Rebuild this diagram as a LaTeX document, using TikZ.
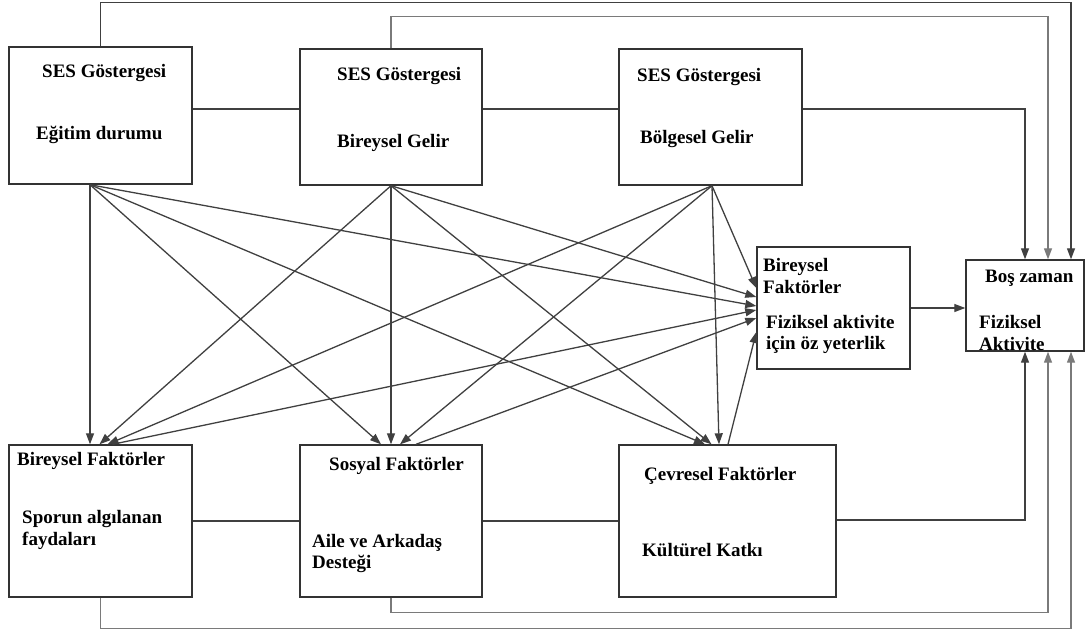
\documentclass[tikz,border=0pt]{standalone}
\usepackage{fontspec}
\setmainfont{Liberation Serif}
\usetikzlibrary{arrows.meta}
\begin{document}
\begin{tikzpicture}[x=1pt,y=-1pt,
  box/.style={draw=black!80, line width=1.4pt, rectangle, inner sep=0pt, fill=white},
  lbl/.style={font=\bfseries\fontsize{19}{22}\selectfont, anchor=base west, inner sep=0pt, text=black},
  con/.style={draw=black!75, line width=1.3pt},
  lcon/.style={draw=black!52, line width=1.3pt},
  tip/.style={-{Triangle[length=11pt,width=8pt]}},
  arr/.style={con, tip},
  larr/.style={lcon, tip}]
\useasboundingbox (0,0) rectangle (1086,635);
% boxes
\node[box, minimum width=183pt, minimum height=137pt] (A) at (100.5,115.5) {};
\node[box, minimum width=182pt, minimum height=136pt] (B) at (391,117) {};
\node[box, minimum width=183pt, minimum height=136pt] (C) at (710.5,117) {};
\node[box, minimum width=153pt, minimum height=122pt] (D) at (833.5,308) {};
\node[box, minimum width=118pt, minimum height=91pt] (E) at (1025,305.5) {};
\node[box, minimum width=183pt, minimum height=152pt] (F) at (100.5,521) {};
\node[box, minimum width=182pt, minimum height=152pt] (G) at (391,521) {};
\node[box, minimum width=217pt, minimum height=152pt] (H) at (727.5,521) {};
% horizontal links
\draw[con] ([yshift=6.5pt]A.east) -- ([yshift=8pt]B.west);
\draw[con] ([yshift=8pt]B.east) -- ([yshift=8pt]C.west);
\draw[con] (F.east) -- (G.west);
\draw[con] (G.east) -- (H.west);
% routes to E
\draw[arr] (A.north) -- ++(0,-44) -| ([xshift=46pt]E.north);
\draw[larr] (B.north) -- ++(0,-32) -| ([xshift=23pt]E.north);
\draw[arr] ([yshift=8pt]C.east) -| (E.north);
\draw[arr] ([yshift=1pt]H.east) -| (E.south);
\draw[larr] (G.south) -- ++(0,15) -| ([xshift=23pt]E.south);
\draw[larr] (F.south) -- ++(0,31) -| ([xshift=46pt]E.south);
\draw[arr] (D.east) -- (D.east -| E.west);
% SES -> factors
\draw[arr] ([xshift=-10.5pt]A.south) -- ([xshift=-10.5pt]F.north);
\draw[arr] ([xshift=-10.5pt]A.south) -- ([xshift=-10pt]G.north);
\draw[arr] ([xshift=-10.5pt]A.south) -- ([xshift=-22.5pt]H.north);
\draw[arr] ([xshift=-10.5pt]A.south) -- ([yshift=2pt]D.west);
\draw[arr] (B.south) -- ([xshift=-1pt]F.north);
\draw[arr] (B.south) -- (G.north);
\draw[arr] (B.south) -- ([xshift=-16pt]H.north);
\draw[arr] (B.south) -- ([yshift=11pt]D.west);
\draw[arr] ([xshift=1.5pt]C.south) -- ([xshift=7pt]F.north);
\draw[arr] ([xshift=1.5pt]C.south) -- ([xshift=9pt]G.north);
\draw[arr] ([xshift=1.5pt]C.south) -- ([xshift=-8.5pt]H.north);
\draw[arr] ([xshift=1.5pt]C.south) -- ([yshift=20pt]D.west);
% factors -> D
\draw[arr] ([xshift=12pt]F.north) -- ([yshift=-2pt]D.west);
\draw[arr] ([xshift=25pt]G.north) -- ([yshift=-10pt]D.west);
\draw[arr] ([xshift=0.5pt]H.north) -- ([yshift=-24pt]D.west);
% labels
\node[lbl] (a1) at (42,77) {SES Göstergesi};
\node[lbl] (a2) at (36,139) {Eğitim durumu};
\node[lbl] (b1) at (337,80) {SES Göstergesi};
\node[lbl] (b2) at (337,147) {Bireysel Gelir};
\node[lbl] (c1) at (637,81) {SES Göstergesi};
\node[lbl] (c2) at (640,143) {Bölgesel Gelir};
\node[lbl] (d1) at (763,271) {Bireysel};
\node[lbl] (d2) at (763,293) {Faktörler};
\node[lbl] (d3) at (766,328) {Fiziksel aktivite};
\node[lbl] (d4) at (766,349) {için öz yeterlik};
\node[lbl] (e1) at (985,282) {Boş zaman};
\node[lbl] (e2) at (979,328) {Fiziksel};
\node[lbl] (e3) at (979,350) {Aktivite};
\node[lbl] (f1) at (17,465) {Bireysel Faktörler};
\node[lbl] (f2) at (22,523) {Sporun algılanan};
\node[lbl] (f3) at (22,545) {faydaları};
\node[lbl] (g1) at (329,470) {Sosyal Faktörler};
\node[lbl] (g2) at (312,547) {Aile ve Arkadaş};
\node[lbl] (g3) at (312,568) {Desteği};
\node[lbl] (h1) at (644,480) {Çevresel Faktörler};
\node[lbl] (h2) at (642,556) {Kültürel Katkı};
\end{tikzpicture}
\end{document}
